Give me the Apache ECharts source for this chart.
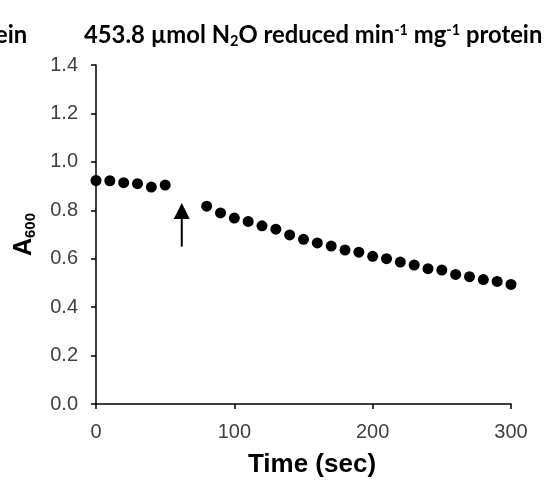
<!DOCTYPE html>
<html>
<head>
<meta charset="utf-8">
<script src="https://cdn.jsdelivr.net/npm/echarts@6/dist/echarts.min.js"></script>
<style>html,body{margin:0;padding:0;background:#fff}#c{width:558px;height:483px}</style>
</head>
<body>
<div id="c"></div>
<script>
var timeBefore = [0, 10, 20, 30, 40, 50];
var absBefore = [0.923, 0.922, 0.914, 0.910, 0.896, 0.904];
var timeAfter = [80, 90, 100, 110, 120, 130, 140, 150, 160, 170, 180, 190, 200, 210, 220, 230, 240, 250, 260, 270, 280, 290, 300];
var absAfter = [0.817, 0.789, 0.768, 0.754, 0.736, 0.722, 0.698, 0.680, 0.665, 0.652, 0.636, 0.627, 0.610, 0.600, 0.586, 0.574, 0.559, 0.553, 0.535, 0.526, 0.514, 0.506, 0.494];
var arrowTime = [62, 62];
var arrowShaft = [0.65, 0.79];
var arrowHead = [0.797];
var xTicks = [0, 100, 200, 300];
var yTicks = [0.0, 0.2, 0.4, 0.6, 0.8, 1.0, 1.2, 1.4];

function pairs(xs, ys) { return xs.map(function (x, i) { return [x, ys[i]]; }); }

var chart = echarts.init(document.getElementById('c'), null, {renderer: 'canvas'});
var titleFont = 'Lato';
var tfs = 23.8, sfs = 14.5;
chart.setOption({
  animation: false,
  title: [{
    text: '{t|453.8 µmol N}{sub|2}{t|O reduced min}{sup|-1}{t| mg}{sup|-1}{t| protein}',
    left: 79, top: 14,
    textStyle: {
      rich: {
        t: {fontFamily: titleFont, fontWeight: 'bold', fontSize: tfs, color: '#000', lineHeight: 32},
        sub: {fontFamily: titleFont, fontWeight: 'bold', fontSize: sfs, color: '#000', lineHeight: 32, verticalAlign: 'bottom', padding: [0, 0, 2, 0]},
        sup: {fontFamily: titleFont, fontWeight: 'bold', fontSize: sfs, color: '#000', lineHeight: 15, verticalAlign: 'top', padding: [4, 0, 0, 0]}
      }
    }
  }, {
    text: 'ein', left: -10, top: 14,
    textStyle: {fontFamily: titleFont, fontWeight: 'bold', fontSize: tfs, color: '#000', lineHeight: 32}
  }],
  grid: {left: 96, right: 47, top: 65, bottom: 79, containLabel: false},
  xAxis: {
    type: 'value', min: 0, max: 300, interval: 100,
    name: 'Time (sec)', nameLocation: 'middle', nameGap: 48,
    nameTextStyle: {fontFamily: 'Liberation Sans', fontWeight: 'bold', fontSize: 26, color: '#000', padding: [0, 0, 0, 17]},
    axisLine: {show: true, onZero: false, lineStyle: {color: '#000', width: 1.5}},
    axisTick: {show: true, length: 5, lineStyle: {color: '#000', width: 1.5}},
    axisLabel: {margin: 18, fontFamily: 'Liberation Sans', fontSize: 20, color: '#404040',
      formatter: function (v) { return xTicks.indexOf(v) >= 0 ? String(v) : ''; }},
    splitLine: {show: false}
  },
  yAxis: {
    type: 'value', min: 0, max: 1.4, interval: 0.2,
    name: '{a|A}{s|600}', nameLocation: 'middle', nameGap: 58,
    nameTextStyle: {
      rich: {
        a: {fontFamily: 'Liberation Sans', fontWeight: 'bold', fontSize: 25, color: '#000', lineHeight: 28},
        s: {fontFamily: 'Liberation Sans', fontWeight: 'bold', fontSize: 15, color: '#000', lineHeight: 28, verticalAlign: 'bottom'}
      }
    },
    axisLine: {show: true, onZero: false, lineStyle: {color: '#000', width: 1.5}},
    axisTick: {show: true, length: 5, lineStyle: {color: '#000', width: 1.5}},
    axisLabel: {margin: 18, fontFamily: 'Liberation Sans', fontSize: 20, color: '#404040',
      formatter: function (v) {
        for (var i = 0; i < yTicks.length; i++) { if (Math.abs(yTicks[i] - v) < 1e-6) return yTicks[i].toFixed(1); }
        return '';
      }},
    splitLine: {show: false}
  },
  series: [{
    type: 'scatter', data: pairs(timeBefore, absBefore),
    symbol: 'circle', symbolSize: 11, itemStyle: {color: '#000', opacity: 1}, silent: true
  }, {
    type: 'scatter', data: pairs(timeAfter, absAfter),
    symbol: 'circle', symbolSize: 11, itemStyle: {color: '#000', opacity: 1}, silent: true
  }, {
    type: 'line', data: pairs(arrowTime, arrowShaft), showSymbol: false, symbol: 'none',
    lineStyle: {color: '#000', width: 2}, silent: true
  }, {
    type: 'scatter', data: pairs([arrowTime[0]], arrowHead),
    symbol: 'triangle', symbolSize: [16, 16], itemStyle: {color: '#000', opacity: 1}, silent: true
  }]
});
</script>
</body>
</html>
